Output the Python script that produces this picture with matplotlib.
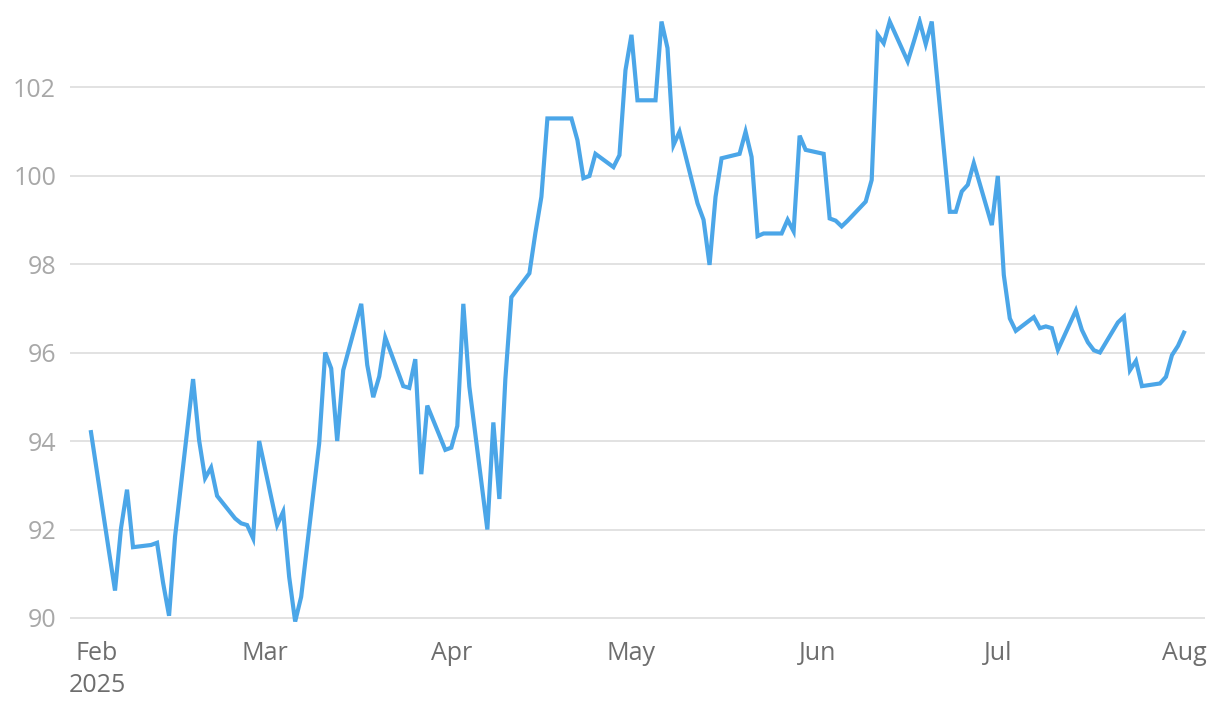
import matplotlib
matplotlib.use("Agg")
import matplotlib.pyplot as plt
import pandas as pd

plt.rcParams['font.family'] = ['Open Sans', 'DejaVu Sans']

dates = [
    "2025-01-31", "2025-02-03", "2025-02-04", "2025-02-05", "2025-02-06", "2025-02-07",
    "2025-02-10", "2025-02-11", "2025-02-12", "2025-02-13", "2025-02-14",
    "2025-02-17", "2025-02-18", "2025-02-19", "2025-02-20", "2025-02-21",
    "2025-02-24", "2025-02-25", "2025-02-26", "2025-02-27", "2025-02-28",
    "2025-03-03", "2025-03-04", "2025-03-05", "2025-03-06", "2025-03-07",
    "2025-03-10", "2025-03-11", "2025-03-12", "2025-03-13", "2025-03-14",
    "2025-03-17", "2025-03-18", "2025-03-19", "2025-03-20", "2025-03-21",
    "2025-03-24", "2025-03-25", "2025-03-26", "2025-03-27", "2025-03-28",
    "2025-03-31", "2025-04-01", "2025-04-02", "2025-04-03", "2025-04-04",
    "2025-04-07", "2025-04-08", "2025-04-09", "2025-04-10", "2025-04-11",
    "2025-04-14", "2025-04-15", "2025-04-16", "2025-04-17", "2025-04-18",
    "2025-04-21", "2025-04-22", "2025-04-23", "2025-04-24", "2025-04-25",
    "2025-04-28", "2025-04-29", "2025-04-30", "2025-05-01", "2025-05-02",
    "2025-05-05", "2025-05-06", "2025-05-07", "2025-05-08", "2025-05-09",
    "2025-05-12", "2025-05-13", "2025-05-14", "2025-05-15", "2025-05-16",
    "2025-05-19", "2025-05-20", "2025-05-21", "2025-05-22", "2025-05-23",
    "2025-05-26", "2025-05-27", "2025-05-28", "2025-05-29", "2025-05-30",
    "2025-06-02", "2025-06-03", "2025-06-04", "2025-06-05", "2025-06-06",
    "2025-06-09", "2025-06-10", "2025-06-11", "2025-06-12", "2025-06-13",
    "2025-06-16", "2025-06-17", "2025-06-18", "2025-06-19", "2025-06-20",
    "2025-06-23", "2025-06-24", "2025-06-25", "2025-06-26", "2025-06-27",
    "2025-06-30", "2025-07-01", "2025-07-02", "2025-07-03", "2025-07-04",
    "2025-07-07", "2025-07-08", "2025-07-09", "2025-07-10", "2025-07-11",
    "2025-07-14", "2025-07-15", "2025-07-16", "2025-07-17", "2025-07-18",
    "2025-07-21", "2025-07-22", "2025-07-23", "2025-07-24", "2025-07-25",
    "2025-07-28", "2025-07-29", "2025-07-30", "2025-07-31", "2025-08-01",
]

values = [
    94.2, 91.5, 90.62, 92.03, 92.9, 91.6,
    91.65, 91.7, 90.8, 90.05, 91.84,
    95.4, 94.02, 93.16, 93.4, 92.76,
    92.25, 92.14, 92.1, 91.8, 94.0,
    92.1, 92.4, 90.93, 89.92, 90.48,
    93.95, 96.0, 95.64, 94.0, 95.6,
    97.1, 95.72, 94.99, 95.46, 96.34,
    95.24, 95.2, 95.85, 93.25, 94.8,
    93.8, 93.85, 94.34, 97.1, 95.23,
    92.0, 94.42, 92.69, 95.4, 97.25,
    97.79, 98.7, 99.52, 101.29, 101.29,
    101.29, 100.8, 99.94, 99.99, 100.49,
    100.19, 100.46, 102.38, 103.18, 101.7,
    101.7, 103.48, 102.88, 100.69, 100.99,
    99.37, 99.0, 97.98, 99.52, 100.39,
    100.49, 100.99, 100.42, 98.63, 98.69,
    98.69, 99.0, 98.74, 100.9, 100.58,
    100.49, 99.03, 98.98, 98.85, 98.98,
    99.41, 99.9, 103.18, 102.99, 103.48,
    102.58, 103.02, 103.48, 102.97, 103.48,
    99.18, 99.18, 99.64, 99.79, 100.28,
    98.88, 99.99, 97.75, 96.77, 96.49,
    96.8, 96.55, 96.59, 96.55, 96.06,
    96.95, 96.51, 96.23, 96.05, 96.0,
    96.68, 96.81, 95.6, 95.81, 95.24,
    95.3, 95.45, 95.94, 96.15, 96.45,
]

y_ticks = [90, 92, 94, 96, 98, 100, 102]
month_labels = ["Feb\n2025", "Mar", "Apr", "May", "Jun", "Jul", "Aug"]

x = pd.to_datetime(dates)

fig = plt.figure(figsize=(12.2, 7.12), dpi=100)
ax = fig.add_axes([0.0574, 0.1196, 0.9303, 0.8576])

ax.plot(x, values, color="#4ba6e8", linewidth=3, solid_joinstyle="miter", zorder=3)

start = pd.Timestamp("2025-02-01")
ax.set_xlim(start - pd.Timedelta(days=4.49), start + pd.Timedelta(days=184.5))
ax.set_ylim(89.8, 103.6)

ticks = pd.date_range("2025-02-01", "2025-08-01", freq="MS")
ax.set_xticks(ticks)
ax.set_xticklabels(month_labels, fontsize=18, color="#6e6e6e")
ax.set_yticks(y_ticks)
ax.set_yticklabels([str(v) for v in y_ticks], fontsize=18, color="#a8a8a8")

ax.grid(axis="y", color="#e2e2e2", linewidth=1.4)
ax.set_axisbelow(True)
for s in ax.spines.values():
    s.set_visible(False)
ax.tick_params(axis="both", length=0)
ax.tick_params(axis="x", pad=10.5)
ax.tick_params(axis="y", pad=10)
for lbl in ax.get_xticklabels():
    lbl.set_linespacing(1.35)

fig.savefig("out.png", dpi=100)
